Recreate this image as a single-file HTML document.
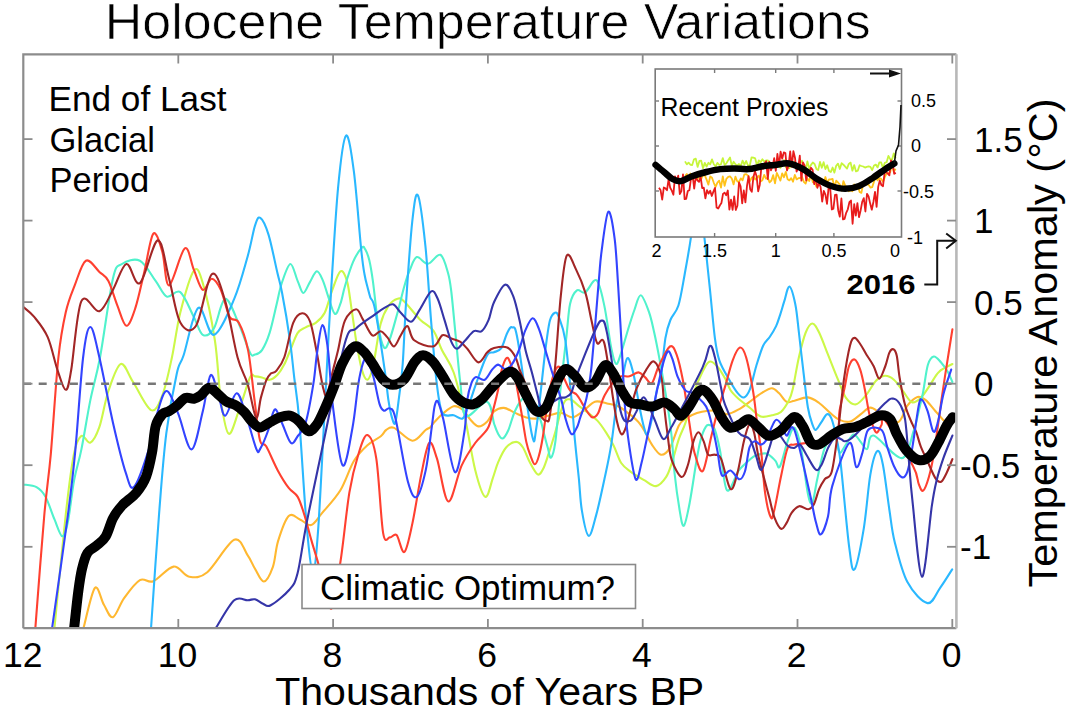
<!DOCTYPE html>
<html><head><meta charset="utf-8"><style>
html,body{margin:0;padding:0;background:#fff;width:1073px;height:712px;overflow:hidden}
svg{display:block}
text{font-family:"Liberation Sans", sans-serif;fill:#000}
</style></head><body>
<svg width="1073" height="712" viewBox="0 0 1073 712">
<rect width="1073" height="712" fill="#fff"/>
<defs><clipPath id="pc"><rect x="23.5" y="54" width="933" height="574.5"/></clipPath></defs>
<g clip-path="url(#pc)"><g><path d="M83.7 627.3C85.6 620.8 91.5 591.8 94.9 588.0C98.3 584.2 100.9 599.9 103.9 604.8C106.9 609.7 109.5 618.3 112.9 617.2C116.3 616.1 119.6 604.3 124.1 598.1C128.6 591.9 135.0 582.9 139.9 580.1C144.8 577.3 147.7 583.5 153.3 581.2C158.9 579.0 167.6 567.4 173.6 566.6C179.6 565.9 183.7 575.8 189.3 576.7C194.9 577.6 199.8 578.4 207.3 572.2C214.8 566.0 227.5 542.5 234.2 539.7C240.9 536.9 244.2 550.5 247.7 555.4C251.2 560.2 252.3 564.4 255.0 568.8C257.7 573.1 260.8 581.8 263.8 581.5C266.8 581.2 270.5 573.5 272.9 566.8C275.3 560.1 275.4 549.9 278.0 541.4C280.6 532.9 285.1 519.7 288.7 516.0C292.3 512.3 296.1 517.9 299.9 519.4C303.6 520.9 307.4 526.1 311.2 525.0C314.9 523.9 317.5 518.4 322.4 512.6C327.3 506.8 335.1 498.8 340.4 490.2C345.6 481.6 349.4 468.5 353.9 461.0C358.4 453.5 362.9 449.3 367.4 445.2C371.9 441.1 377.7 438.7 380.8 436.2C383.9 433.7 384.0 431.4 386.2 430.0C388.4 428.6 389.8 426.1 394.1 427.9C398.5 429.7 407.1 440.3 412.3 440.7C417.6 441.1 422.6 432.2 425.6 430.0C428.6 427.8 428.8 428.6 430.3 427.2C431.8 425.8 432.6 424.1 434.6 421.9C436.6 419.7 439.2 416.6 442.4 414.0C445.6 411.4 450.3 406.9 453.7 406.2C457.1 405.5 459.8 407.4 462.6 409.6C465.4 411.9 467.9 416.9 470.5 419.7C473.1 422.5 475.6 426.1 478.4 426.4C481.2 426.7 484.7 423.9 487.3 421.4C489.9 418.9 491.2 413.8 494.0 411.5C496.8 409.2 500.4 407.7 503.9 407.9C507.4 408.1 511.4 411.3 515.1 412.9C518.8 414.5 522.5 416.5 526.3 417.4C530.0 418.3 533.7 418.9 537.6 418.5C541.5 418.1 546.0 416.1 549.9 415.2C553.8 414.3 557.5 412.5 561.2 412.9C565.0 413.3 568.7 417.8 572.4 417.4C576.1 417.0 579.9 413.3 583.6 410.7C587.4 408.1 591.0 402.9 594.9 401.7C598.8 400.5 603.1 402.7 607.0 403.5C610.9 404.3 614.5 404.5 618.2 406.3C622.0 408.1 626.1 411.6 629.5 414.2C632.9 416.8 635.9 419.1 638.5 422.1C641.1 425.1 643.0 428.4 645.2 432.2C647.4 435.9 649.3 440.9 651.9 444.6C654.5 448.4 657.9 454.1 660.9 454.7C663.9 455.2 666.9 452.8 669.9 447.9C672.9 443.0 676.3 430.3 678.9 425.4C681.5 420.5 682.7 420.8 685.7 418.7C688.7 416.6 693.2 414.4 696.9 413.1C700.6 411.8 704.4 411.2 708.1 410.8C711.9 410.4 716.2 410.2 719.4 410.8C722.5 411.4 723.9 414.4 727.0 414.2C730.1 414.0 734.5 411.8 738.2 409.7C742.0 407.6 745.6 404.7 749.5 401.9C753.4 399.1 757.8 395.4 761.5 393.1C765.2 390.8 769.0 388.2 771.9 388.2C774.8 388.2 776.4 390.8 778.9 393.1C781.4 395.4 784.0 400.6 786.6 401.9C789.2 403.2 790.9 401.4 794.4 400.7C797.9 399.9 803.8 397.0 807.9 397.4C812.0 397.8 815.4 400.4 819.1 403.0C822.9 405.6 827.0 410.3 830.4 413.1C833.8 415.9 836.2 418.5 839.5 419.9C842.8 421.3 846.8 422.4 850.3 421.5C853.8 420.6 857.1 416.9 860.2 414.6C863.4 412.3 866.6 408.6 869.2 407.8C871.8 407.1 871.3 407.7 876.0 410.1C880.7 412.5 892.1 423.1 897.3 422.4C902.5 421.6 904.0 409.8 907.4 405.6C910.8 401.4 914.5 398.1 917.5 397.1C920.5 396.2 922.4 397.5 925.4 399.9C928.4 402.2 932.5 407.8 935.5 411.2C938.5 414.6 942.1 418.7 943.4 420.2" stroke="#ffb830" stroke-width="2.1" fill="none" stroke-linejoin="round" stroke-linecap="round"/>
<path d="M54.5 627.3C56.4 608.6 62.5 543.9 65.7 515.0C68.9 486.1 71.3 467.3 73.9 454.1C76.5 440.9 78.7 437.8 81.4 435.9C84.2 434.0 87.4 444.1 90.4 442.6C93.4 441.1 96.4 435.5 99.4 426.9C102.4 418.3 104.8 401.5 108.4 391.0C112.0 380.5 116.7 365.5 120.8 364.0C124.9 362.5 128.0 374.3 133.1 382.0C138.2 389.7 146.2 407.9 151.1 410.1C156.0 412.3 158.8 404.2 162.3 395.4C165.8 386.6 168.9 371.3 171.9 357.5C174.9 343.7 176.7 326.8 180.3 312.4C184.0 297.9 190.1 275.7 193.8 270.8C197.6 265.9 199.3 271.5 202.8 283.1C206.3 294.7 211.9 321.0 214.9 340.5C217.9 360.0 218.5 384.4 220.8 399.9C223.1 415.4 225.6 431.8 228.6 433.7C231.6 435.6 235.1 420.6 238.7 411.2C242.3 401.8 247.3 383.3 250.0 377.5C252.7 371.7 253.0 376.4 255.0 376.4C257.0 376.4 259.5 376.9 261.9 377.5C264.3 378.1 267.0 380.3 269.6 379.8C272.2 379.3 275.1 377.2 277.5 374.7C279.9 372.2 282.1 368.7 284.2 364.6C286.3 360.5 288.1 355.3 290.4 350.0C292.6 344.7 295.2 336.7 297.7 332.9C300.2 329.1 302.6 329.0 305.6 327.3C308.6 325.6 312.5 325.2 315.7 322.8C318.9 320.4 322.0 318.0 324.7 312.7C327.4 307.4 329.4 297.7 332.0 290.8C334.6 283.9 337.9 272.9 340.4 271.3C342.9 269.7 345.1 274.8 347.0 281.1C348.9 287.4 350.0 299.1 351.6 309.3C353.2 319.5 354.7 332.1 356.4 342.1C358.1 352.1 359.9 362.8 361.7 369.1C363.5 375.4 365.5 380.2 367.4 379.8C369.3 379.4 370.8 375.9 373.0 366.6C375.2 357.3 378.0 334.0 380.6 323.9C383.2 313.8 385.7 310.2 388.5 306.0C391.3 301.8 394.9 299.4 397.5 298.7C400.1 297.9 400.5 298.1 404.2 301.5C407.9 304.9 415.0 314.5 419.9 319.4C424.8 324.3 429.7 325.6 433.4 330.7C437.1 335.8 438.5 343.0 441.9 350.0C445.3 357.0 449.9 361.6 453.7 372.5C457.5 383.4 461.0 399.5 464.6 415.7C468.2 431.9 471.8 456.4 475.2 469.9C478.6 483.4 482.4 495.5 485.3 496.8C488.2 498.1 490.8 483.6 492.9 477.8C495.0 472.0 496.0 467.2 498.2 462.1C500.4 457.1 503.1 450.9 506.1 447.5C509.1 444.1 513.4 441.9 516.2 441.9C519.0 441.9 520.8 444.1 523.0 447.5C525.2 450.9 527.3 457.6 529.7 462.1C532.1 466.6 535.4 473.3 537.6 474.4C539.9 475.5 541.3 472.4 543.2 468.8C545.1 465.2 546.8 459.1 548.8 453.1C550.8 447.1 552.6 441.2 555.0 433.0C557.4 424.8 560.9 409.5 563.4 403.9C565.9 398.3 567.5 399.0 570.1 399.4C572.7 399.8 576.1 403.9 579.1 406.2C582.1 408.4 585.0 410.4 588.1 412.9C591.2 415.3 594.6 417.6 597.6 420.9C600.6 424.2 603.6 428.7 606.3 432.8C609.0 436.9 611.2 440.7 613.7 445.7C616.2 450.7 618.4 458.6 621.2 463.0C624.1 467.4 626.9 468.9 630.8 471.8C634.6 474.7 640.1 477.8 644.3 480.2C648.5 482.6 652.5 486.7 656.1 486.1C659.8 485.6 663.6 480.8 666.2 476.9C668.8 473.0 669.7 469.3 671.8 463.0C673.9 456.7 676.6 445.7 678.9 438.9C681.2 432.1 683.2 429.8 685.7 422.1C688.2 414.5 690.9 401.4 693.7 393.0C696.5 384.6 699.9 377.0 702.5 371.8C705.1 366.6 706.8 362.6 709.2 361.7C711.6 360.8 714.4 363.3 717.1 366.2C719.8 369.1 723.2 375.0 725.4 379.0C727.6 383.0 728.3 386.8 730.4 390.0C732.5 393.2 735.0 395.6 738.2 398.5C741.4 401.4 745.8 404.5 749.5 407.5C753.2 410.5 757.0 415.2 760.7 416.5C764.4 417.8 768.5 416.1 771.9 415.3C775.3 414.6 778.1 414.4 780.9 412.0C783.7 409.6 786.7 404.6 788.7 400.8C790.7 397.0 791.0 396.6 792.7 389.3C794.4 382.0 796.7 366.7 798.9 357.2C801.1 347.7 803.5 338.1 805.7 332.5C808.0 326.9 810.2 323.5 812.4 323.5C814.6 323.5 816.5 327.3 819.1 332.5C821.7 337.7 825.0 347.1 828.1 354.9C831.2 362.7 834.8 372.1 837.8 379.2C840.8 386.3 842.8 393.4 845.8 397.6C848.8 401.8 852.4 404.8 855.7 404.4C859.0 404.0 862.4 399.3 865.8 395.4C869.2 391.5 872.8 384.1 876.0 380.8C879.2 377.5 881.9 376.0 884.9 375.8C887.9 375.6 890.9 377.2 893.9 379.7C896.9 382.2 899.9 387.2 902.9 391.0C905.9 394.8 908.9 401.1 911.9 402.2C914.9 403.3 917.9 400.5 920.9 397.7C923.9 394.9 926.9 389.6 929.9 385.3C932.9 381.0 935.1 375.4 938.9 371.9C942.6 368.3 950.1 365.3 952.4 364.0" stroke="#ccf848" stroke-width="2.1" fill="none" stroke-linejoin="round" stroke-linecap="round"/>
<path d="M23.0 484.4C25.2 484.9 32.8 485.1 36.5 487.2C40.2 489.3 42.5 491.4 45.5 496.8C48.5 502.2 51.7 512.8 54.5 519.4C57.3 526.0 60.1 535.9 62.3 536.3C64.5 536.7 65.9 531.0 67.9 521.7C69.9 512.4 71.8 492.4 74.1 480.4C76.3 468.3 78.7 462.8 81.4 449.4C84.1 436.0 87.3 415.2 90.4 399.9C93.5 384.6 96.2 377.7 100.0 357.5C103.8 337.3 109.2 294.3 112.9 278.7C116.6 263.1 117.4 267.0 121.9 264.0C126.4 261.0 134.3 257.9 139.9 260.7C145.5 263.5 151.1 274.9 155.6 280.9C160.1 286.9 162.7 294.7 166.8 296.6C170.9 298.5 175.8 288.7 180.3 292.1C184.8 295.5 190.1 309.8 193.8 316.9C197.6 324.0 199.4 332.9 202.8 334.8C206.2 336.7 210.3 334.1 214.0 328.1C217.7 322.1 221.1 299.6 225.2 298.9C229.3 298.1 234.6 314.6 238.7 323.6C242.8 332.6 247.3 347.7 250.0 352.8C252.7 357.9 253.0 354.9 255.0 354.5C257.0 354.1 259.6 353.7 262.0 350.1C264.4 346.5 267.1 340.7 269.6 332.9C272.1 325.1 274.8 311.8 276.8 303.5C278.8 295.2 279.5 289.6 281.8 283.0C284.1 276.4 287.8 264.3 290.4 264.0C293.0 263.7 295.5 276.3 297.7 281.1C299.9 285.9 301.3 292.8 303.3 293.0C305.3 293.2 307.6 285.7 309.9 282.1C312.1 278.5 314.7 271.6 316.8 271.3C318.9 271.0 320.8 276.0 322.7 280.1C324.6 284.2 326.0 290.2 328.0 295.8C330.0 301.4 332.7 312.5 334.8 313.8C336.9 315.1 338.7 308.3 340.4 303.7C342.1 299.1 342.9 293.0 345.0 286.0C347.1 279.0 350.3 268.3 353.1 261.9C355.9 255.5 359.8 249.8 361.8 247.7C363.8 245.6 363.9 247.2 365.2 249.3C366.4 251.4 368.0 254.9 369.3 260.3C370.6 265.7 371.5 270.9 373.0 281.9C374.5 292.9 376.6 315.3 378.4 326.2C380.2 337.1 382.1 345.2 384.0 347.5C385.9 349.8 387.4 345.5 389.6 339.7C391.9 333.9 395.0 321.6 397.5 312.7C400.0 303.8 402.3 293.1 404.4 286.0C406.4 278.9 407.7 274.8 409.8 270.0C411.9 265.2 413.8 258.1 416.8 257.1C419.8 256.1 424.1 264.2 428.0 263.8C431.9 263.4 437.0 253.2 440.4 254.8C443.8 256.4 446.3 267.0 448.1 273.3C449.9 279.6 450.1 282.2 451.4 292.5C452.6 302.8 454.1 319.9 455.6 335.1C457.1 350.3 458.7 370.2 460.4 383.7C462.1 397.2 461.5 413.0 465.9 416.0C470.3 419.0 482.3 400.4 487.0 401.7C491.7 403.0 492.3 418.6 494.2 424.0C496.1 429.4 496.8 431.6 498.2 434.0C499.6 436.4 501.0 439.1 502.7 438.5C504.4 437.9 506.2 434.8 508.3 430.2C510.4 425.6 512.5 416.2 515.1 410.7C517.7 405.2 521.3 399.3 524.1 397.2C526.9 395.1 529.1 394.4 531.9 398.3C534.6 402.2 538.7 414.9 540.6 420.3C542.5 425.7 542.0 426.1 543.2 430.6C544.4 435.1 546.4 443.0 547.7 447.5C549.0 452.0 549.7 458.5 551.0 457.6C552.3 456.7 553.7 453.5 555.3 442.1C556.9 430.7 558.6 406.7 560.5 389.1C562.4 371.5 564.8 350.9 566.4 336.7C568.0 322.5 568.4 311.4 570.1 303.7C571.9 296.0 574.4 292.2 576.9 290.3C579.4 288.4 581.9 294.2 585.1 292.5C588.4 290.8 593.2 278.0 596.4 280.2C599.6 282.4 601.8 294.1 604.3 305.6C606.8 317.1 609.5 339.6 611.5 349.3C613.5 359.0 614.5 363.0 616.0 363.9C617.5 364.8 618.5 360.8 620.5 354.9C622.5 349.0 626.0 336.2 628.3 328.7C630.6 321.2 632.3 315.6 634.4 310.0C636.5 304.4 638.3 294.9 640.8 295.3C643.2 295.7 646.9 306.2 649.1 312.4C651.3 318.6 652.4 324.5 654.2 332.5C656.0 340.5 657.6 348.8 659.8 360.6C662.0 372.4 665.2 390.5 667.2 403.4C669.2 416.3 670.6 426.3 671.8 438.0C673.0 449.7 673.3 461.4 674.6 473.5C675.9 485.6 678.2 501.9 679.7 510.6C681.2 519.3 682.2 527.1 683.9 525.7C685.6 524.3 687.8 512.6 689.8 502.1C691.8 491.7 694.4 473.1 696.1 463.0C697.9 452.9 698.7 447.3 700.3 441.2C701.9 435.1 704.2 429.2 705.9 426.6C707.6 424.0 708.9 424.8 710.4 425.4C711.9 425.9 713.3 425.6 714.9 429.9C716.5 434.2 718.1 440.9 720.1 451.0C722.1 461.1 724.0 486.9 727.0 490.3C730.0 493.7 735.4 475.4 738.2 471.2C741.0 467.0 742.0 466.9 743.9 465.0C745.8 463.1 747.6 461.5 749.5 460.0C751.4 458.5 752.3 456.9 755.1 455.8C757.9 454.7 762.9 452.7 766.3 453.5C769.6 454.3 773.0 458.3 775.2 460.5C777.5 462.7 777.7 469.9 779.8 466.7C781.9 463.5 785.3 447.7 787.7 441.2C790.1 434.7 792.2 426.8 794.4 427.7C796.6 428.6 798.5 435.7 800.8 446.7C803.0 457.7 806.0 484.4 807.9 493.7C809.8 503.0 810.8 505.2 812.4 502.7C814.0 500.1 815.3 487.5 817.4 478.4C819.5 469.3 821.9 454.7 824.8 447.9C827.7 441.1 832.4 437.0 834.9 437.8C837.4 438.6 837.7 451.6 839.5 452.7C841.3 453.8 843.6 447.6 845.9 444.6C848.2 441.6 851.1 435.1 853.5 434.5C855.9 433.9 858.0 438.8 860.2 441.2C862.5 443.6 864.8 450.0 867.0 449.1C869.2 448.2 867.9 434.1 873.7 435.6C879.5 437.1 895.1 458.9 901.8 458.1C908.4 457.4 910.8 438.9 913.6 431.1C916.4 423.3 917.1 417.7 918.7 411.2C920.3 404.7 921.6 399.8 923.1 392.1C924.6 384.4 926.1 370.7 927.9 364.8C929.7 358.9 931.6 356.9 933.8 356.5C936.0 356.1 938.5 359.6 940.9 362.2C943.2 364.8 946.0 368.6 947.9 371.9C949.8 375.2 951.6 380.3 952.4 382.0" stroke="#50f2cc" stroke-width="2.1" fill="none" stroke-linejoin="round" stroke-linecap="round"/>
<path d="M151.1 627.3C152.4 608.6 156.5 547.3 159.0 515.0C161.5 482.7 163.3 457.0 166.3 433.4C169.3 409.8 173.9 386.5 176.8 373.4C179.7 360.3 180.1 365.9 183.7 355.0C187.3 344.1 193.2 311.3 198.3 307.9C203.4 304.5 208.0 336.3 214.0 334.8C220.0 333.3 228.6 312.0 234.2 298.9C239.8 285.8 244.2 268.4 247.7 256.2C251.2 244.0 252.9 232.0 255.0 225.6C257.1 219.2 258.1 216.4 260.3 217.9C262.6 219.4 265.6 225.4 268.5 234.6C271.4 243.8 275.2 263.7 277.5 273.3C279.8 282.9 279.9 281.5 282.0 292.5C284.1 303.5 287.8 325.0 289.8 339.3C291.9 353.6 292.7 364.7 294.3 378.1C295.9 391.5 297.1 395.2 299.2 419.9C301.3 444.6 304.4 500.9 306.7 526.1C309.0 551.3 311.1 571.1 313.0 571.1C314.9 571.1 316.2 556.9 318.4 526.1C320.5 495.3 323.8 425.0 325.9 386.4C328.0 347.8 328.9 327.5 330.9 294.3C332.9 261.1 335.6 213.8 338.1 187.4C340.6 161.0 343.4 138.3 346.0 135.7C348.6 133.1 351.4 152.7 353.9 171.7C356.4 190.7 359.4 232.4 361.2 249.5C363.0 266.6 363.4 268.0 364.5 274.3C365.6 280.6 366.6 283.7 367.6 287.5C368.6 291.3 369.1 293.7 370.3 297.3C371.5 300.9 372.7 297.6 375.0 309.3C377.3 321.0 382.1 352.1 384.3 367.3C386.6 382.5 387.2 392.2 388.5 400.6C389.8 409.0 390.8 413.7 391.9 417.4C393.0 421.1 394.1 425.8 395.2 423.0C396.3 420.2 397.4 410.4 398.6 400.6C399.9 390.8 401.4 380.4 402.7 364.0C403.9 347.6 404.5 325.8 406.1 302.0C407.7 278.2 410.3 238.9 412.3 221.1C414.3 203.3 415.7 191.2 417.9 195.3C420.1 199.4 423.2 224.9 425.4 245.9C427.6 266.9 429.2 298.1 431.1 321.1C433.0 344.1 434.9 368.4 436.8 383.7C438.7 399.0 439.6 407.6 442.4 412.9C445.2 418.1 450.3 414.3 453.7 415.2C457.1 416.1 460.2 420.0 462.6 418.5C465.0 417.0 466.1 412.0 468.3 406.2C470.6 400.4 473.5 391.0 476.1 383.7C478.7 376.4 481.7 367.6 483.8 362.5C485.9 357.4 486.8 355.1 488.5 353.4C490.2 351.7 491.9 353.1 494.0 352.2C496.1 351.3 499.1 351.3 501.3 348.1C503.5 344.9 505.4 336.4 507.2 332.9C509.0 329.4 510.5 326.1 512.3 327.3C514.0 328.5 514.5 322.4 517.7 340.0C520.9 357.6 528.5 418.6 531.6 433.2C534.7 447.8 534.1 441.4 536.4 427.5C538.7 413.6 543.1 367.8 545.4 350.0C547.6 332.2 548.3 326.8 549.9 320.6C551.5 314.4 553.5 313.3 555.0 312.7C556.5 312.1 557.2 312.5 558.9 317.2C560.6 321.9 563.2 326.5 565.4 340.7C567.5 354.9 570.2 385.9 571.8 402.5C573.4 419.1 573.7 427.6 574.9 440.2C576.1 452.8 577.6 466.3 578.8 478.0C580.0 489.7 580.2 501.0 581.9 510.6C583.5 520.2 586.3 535.1 588.7 535.8C591.1 536.5 593.6 524.3 596.3 514.6C599.0 504.9 602.2 489.5 604.7 477.8C607.2 466.1 609.3 456.9 611.3 444.3C613.3 431.7 615.1 412.5 616.8 402.3C618.5 392.1 619.9 390.3 621.6 383.0C623.3 375.7 625.3 360.0 627.2 358.3C629.1 356.6 631.1 364.6 633.2 372.8C635.3 381.0 637.8 398.4 639.6 407.5C641.4 416.6 642.8 423.2 644.1 427.7C645.4 432.2 646.1 435.9 647.4 434.4C648.7 432.9 650.3 426.2 651.9 418.7C653.5 411.2 655.5 396.2 657.0 389.3C658.5 382.4 659.5 385.9 660.9 377.4C662.3 368.9 663.8 347.7 665.4 338.1C667.0 328.5 668.2 325.4 670.4 320.0C672.6 314.6 676.0 313.1 678.4 305.5C680.8 297.9 682.5 286.3 684.6 274.7C686.7 263.1 689.0 250.8 691.2 235.6C693.4 220.4 695.4 183.7 697.6 183.7C699.8 183.7 702.2 218.2 704.2 235.6C706.2 253.0 708.0 270.9 709.8 288.0C711.6 305.1 713.3 326.0 714.9 338.1C716.5 350.2 717.0 353.6 719.4 360.6C721.8 367.6 726.5 374.8 729.5 380.2C732.5 385.6 735.3 390.2 737.7 393.1C740.1 396.0 741.9 398.0 743.9 397.4C745.9 396.8 747.8 394.6 749.9 389.4C752.0 384.2 754.0 373.4 756.2 366.2C758.4 359.0 760.8 350.9 763.0 346.0C765.2 341.1 767.5 340.3 769.7 337.0C771.9 333.7 774.3 329.9 776.1 326.1C777.9 322.3 778.9 318.5 780.3 314.3C781.7 310.1 782.8 305.8 784.3 301.2C785.8 296.6 787.6 286.1 789.4 286.6C791.2 287.1 793.7 296.6 795.3 304.2C796.9 311.8 797.6 321.4 798.9 332.5C800.2 343.6 801.8 358.2 803.3 370.7C804.8 383.2 806.4 398.6 807.9 407.5C809.4 416.4 811.1 420.6 812.4 424.3C813.7 428.0 814.3 430.3 815.8 429.9C817.3 429.5 819.5 424.7 821.4 422.1C823.3 419.5 825.3 414.8 827.0 414.2C828.7 413.6 830.0 414.9 831.5 418.7C833.0 422.5 834.7 429.6 836.2 436.9C837.7 444.2 838.5 444.5 840.6 462.6C842.7 480.7 846.7 527.8 849.0 545.6C851.3 563.4 852.0 572.3 854.5 569.4C857.0 566.5 861.2 544.0 863.8 528.3C866.4 512.5 868.1 487.7 870.3 474.9C872.5 462.1 875.0 453.2 877.1 451.3C879.2 449.4 880.7 453.9 882.7 463.7C884.8 473.5 887.4 496.9 889.4 510.0C891.4 523.0 891.7 530.0 894.7 542.0C897.7 554.0 901.9 571.9 907.4 582.1C912.9 592.3 922.0 602.2 927.5 603.1C933.0 604.0 936.2 593.2 940.3 587.6C944.4 582.0 950.2 572.4 952.2 569.4" stroke="#2ab8ff" stroke-width="2.1" fill="none" stroke-linejoin="round" stroke-linecap="round"/>
<path d="M35.4 627.3C36.9 608.6 41.7 543.9 44.3 515.0C46.9 486.1 48.4 480.4 50.8 454.1C53.1 427.9 55.9 381.1 58.4 357.5C60.9 333.9 63.0 324.4 65.7 312.4C68.4 300.4 71.3 294.0 74.7 285.4C78.1 276.8 81.8 262.9 85.9 260.7C90.0 258.4 95.7 268.5 99.4 271.9C103.2 275.3 105.4 275.3 108.4 280.9C111.4 286.5 114.4 298.1 117.4 305.6C120.4 313.1 123.4 325.4 126.4 325.8C129.4 326.2 132.4 316.9 135.4 307.9C138.4 298.9 141.3 284.3 144.3 271.9C147.3 259.5 150.3 237.1 153.3 233.7C156.3 230.3 159.7 243.1 162.3 251.7C164.9 260.3 165.3 286.0 169.1 285.4C172.8 284.8 180.7 250.9 184.8 248.3C188.9 245.7 190.8 262.8 193.8 269.7C196.8 276.6 199.8 288.4 202.8 289.9C205.8 291.4 208.8 278.7 211.8 278.7C214.8 278.7 217.8 283.5 220.8 289.9C223.8 296.3 226.7 311.5 229.7 316.9C232.7 322.3 235.6 316.9 238.7 322.5C241.8 328.1 245.5 337.5 248.1 350.4C250.7 363.3 252.5 385.0 254.5 399.9C256.5 414.8 257.9 432.3 259.9 440.0C261.8 447.7 263.3 441.3 266.2 446.3C269.1 451.3 273.8 463.0 277.5 469.9C281.2 476.8 285.3 483.4 288.7 487.9C292.1 492.4 295.1 492.4 297.7 496.9C300.3 501.4 302.1 507.8 304.4 514.9C306.6 522.0 308.9 531.7 311.2 539.6C313.4 547.5 314.6 550.6 317.9 562.1C321.2 573.6 327.2 608.9 331.0 608.9C334.8 608.9 337.3 581.5 340.4 562.1C343.5 542.7 346.4 510.4 349.4 492.4C352.4 474.4 355.4 463.8 358.4 454.2C361.4 444.6 364.4 434.4 367.4 435.1C370.4 435.9 373.7 442.4 376.3 458.7C378.9 475.0 380.9 519.8 383.1 532.9C385.4 546.0 387.6 537.0 389.8 537.4C392.1 537.8 394.2 532.7 396.6 535.1C399.0 537.5 401.8 553.9 404.4 552.0C407.0 550.1 409.5 536.8 412.3 523.9C415.1 511.0 418.5 487.9 421.3 474.4C424.1 460.9 426.6 445.6 429.2 443.0C431.8 440.4 433.8 449.0 437.0 458.7C440.2 468.4 444.2 500.3 448.3 501.4C452.4 502.5 457.2 475.1 461.7 465.4C466.2 455.7 470.8 449.2 475.2 443.0C479.6 436.8 484.8 433.8 487.8 428.3C490.8 422.9 491.4 416.8 493.1 410.3C494.8 403.8 496.8 396.0 498.2 389.3C499.6 382.6 500.2 375.4 501.6 370.2C503.0 365.0 505.2 359.0 506.7 357.9C508.2 356.8 509.2 360.1 510.6 363.5C512.0 366.9 513.4 370.2 515.1 378.1C516.9 386.0 519.2 400.1 521.1 410.7C523.0 421.3 524.7 434.3 526.3 441.9C527.9 449.5 529.4 452.8 530.8 456.5C532.2 460.2 533.5 464.3 534.8 464.3C536.1 464.3 537.4 461.1 538.7 456.5C540.1 451.9 541.2 446.8 542.9 436.5C544.6 426.2 546.9 405.6 548.8 394.9C550.7 384.2 552.6 377.2 554.4 372.5C556.2 367.8 557.8 365.8 559.5 366.9C561.2 368.0 562.7 375.3 564.5 379.2C566.3 383.1 568.0 387.8 570.1 390.4C572.2 393.0 574.8 392.6 576.9 394.9C579.0 397.1 580.6 400.9 582.5 403.9C584.4 406.9 586.4 410.6 588.1 412.9C589.8 415.1 590.9 417.4 592.6 417.4C594.3 417.4 596.2 416.6 598.2 412.9C600.2 409.2 601.5 400.9 604.8 395.0C608.1 389.1 614.1 380.5 618.2 377.4C622.3 374.3 626.1 377.1 629.5 376.3C632.9 375.5 635.9 372.2 638.5 372.4C641.1 372.6 643.0 375.6 645.2 377.4C647.4 379.2 649.6 384.9 651.9 383.0C654.1 381.1 655.7 372.3 658.7 366.2C661.7 360.1 666.9 348.4 669.9 346.5C672.9 344.6 674.5 349.1 676.7 354.9C678.9 360.7 681.2 371.5 683.1 381.2C685.0 390.9 686.5 404.0 687.9 413.1C689.3 422.2 690.1 428.6 691.3 435.6C692.5 442.6 693.3 449.4 695.2 455.3C697.1 461.2 700.2 474.2 702.9 470.9C705.6 467.6 709.1 445.2 711.5 435.6C713.9 426.0 714.8 421.4 717.1 413.1C719.4 404.8 722.7 394.6 725.3 385.9C727.9 377.1 730.2 367.0 732.6 360.6C735.0 354.2 737.6 348.2 739.9 347.6C742.1 347.0 743.9 350.0 746.1 357.2C748.3 364.4 751.1 379.5 753.0 390.7C754.9 401.9 755.9 414.0 757.3 424.3C758.7 434.6 760.0 441.1 761.3 452.7C762.6 464.3 763.6 482.9 765.2 493.7C766.8 504.5 769.3 514.5 770.8 517.3C772.3 520.1 772.5 517.6 774.2 510.6C776.0 503.6 779.0 485.4 781.3 475.0C783.5 464.6 785.5 453.0 787.7 447.9C789.9 442.8 791.8 445.4 794.4 444.6C797.0 443.9 796.6 444.5 803.4 443.4C810.2 442.3 829.2 443.4 835.2 438.0C841.2 432.6 837.9 419.2 839.5 410.9C841.1 402.5 843.0 395.3 844.6 387.9C846.2 380.4 847.3 370.9 849.0 366.2C850.7 361.5 852.7 358.9 854.6 359.5C856.5 360.1 858.5 364.7 860.2 369.6C861.9 374.5 863.2 381.4 864.7 388.7C866.2 396.0 867.7 406.8 869.2 413.4C870.7 419.9 872.4 424.8 873.7 428.0C875.0 431.2 875.8 433.1 877.1 432.5C878.4 431.9 880.3 426.8 881.6 424.7C882.9 422.6 879.7 413.3 884.9 420.2C890.1 427.1 907.4 455.4 913.0 466.0C918.6 476.6 917.0 479.8 918.7 483.9C920.4 488.0 921.4 491.8 923.1 490.7C924.8 489.6 927.0 483.5 928.8 477.2C930.6 470.9 931.8 466.5 934.0 452.8C936.2 439.1 939.9 410.9 942.2 395.0C944.5 379.1 946.3 368.0 948.0 357.1C949.7 346.2 951.7 334.0 952.4 329.4" stroke="#ff4030" stroke-width="2.1" fill="none" stroke-linejoin="round" stroke-linecap="round"/>
<path d="M23.0 306.7C24.9 308.4 30.1 311.8 34.2 316.9C38.3 322.0 43.8 328.2 47.7 337.1C51.6 346.0 54.5 361.2 57.5 370.0C60.5 378.8 63.4 389.8 65.7 389.8C68.0 389.8 68.6 384.8 71.2 370.0C73.8 355.2 76.7 310.9 81.4 301.1C86.1 291.3 94.2 313.1 99.4 311.2C104.7 309.3 108.4 297.8 112.9 289.9C117.4 282.0 121.9 265.1 126.4 264.0C130.9 262.9 134.7 287.0 139.9 283.1C145.1 279.2 152.9 241.1 157.8 240.4C162.7 239.7 165.3 265.0 169.1 278.7C172.8 292.4 175.8 314.6 180.3 322.5C184.8 330.4 190.8 333.9 196.0 325.8C201.2 317.8 206.9 278.3 211.8 274.2C216.7 270.1 220.9 287.2 225.2 301.1C229.5 315.0 233.8 343.6 237.6 357.5C241.3 371.4 244.6 374.2 247.7 384.2C250.8 394.2 253.9 415.5 256.1 417.7C258.3 419.9 259.2 403.8 260.9 397.6C262.6 391.4 264.6 384.3 266.2 380.3C267.8 376.3 269.0 375.2 270.7 373.6C272.4 372.0 274.0 373.6 276.3 370.8C278.6 368.0 281.6 365.0 284.4 357.0C287.2 349.0 290.2 330.1 293.2 322.8C296.2 315.5 299.4 313.5 302.2 313.3C305.0 313.1 307.8 315.7 310.1 321.7C312.4 327.7 314.5 340.8 316.2 349.3C317.9 357.8 319.0 365.8 320.2 372.5C321.4 379.2 322.4 385.6 323.5 389.3C324.6 393.0 325.3 398.3 326.9 394.9C328.5 391.5 331.4 376.5 333.3 369.0C335.2 361.5 336.2 358.1 338.1 350.0C340.0 341.9 341.9 327.4 344.9 320.6C347.9 313.8 353.1 309.5 356.1 309.3C359.1 309.1 360.2 315.0 362.9 319.4C365.6 323.8 369.4 333.4 372.3 335.4C375.2 337.4 378.1 330.9 380.6 331.2C383.1 331.5 385.1 334.9 387.4 337.4C389.6 339.9 391.9 346.8 394.1 346.4C396.3 346.0 398.6 338.6 400.8 335.2C403.1 331.8 405.4 325.3 407.6 326.2C409.8 327.1 409.9 336.9 414.2 340.3C418.5 343.7 428.7 347.2 433.4 346.4C438.1 345.5 439.4 336.5 442.4 335.2C445.4 333.9 448.4 337.4 451.4 338.5C454.4 339.6 457.7 340.1 460.4 341.9C463.1 343.7 464.7 345.9 467.7 349.3C470.7 352.7 475.1 361.9 478.4 362.4C481.7 362.9 484.7 354.7 487.3 352.3C489.9 349.9 490.7 348.9 494.0 348.1C497.3 347.3 503.6 346.0 507.2 347.5C510.8 349.0 513.1 352.7 515.4 356.9C517.6 361.1 517.6 364.7 520.7 372.5C523.8 380.3 530.8 396.6 534.2 403.9C537.6 411.2 538.8 413.5 540.9 416.3C543.0 419.1 545.1 421.0 546.6 420.8C548.1 420.6 548.4 424.7 549.9 415.2C551.4 405.7 553.6 383.5 555.4 363.6C557.2 343.7 558.9 313.9 560.8 295.9C562.7 277.9 564.3 260.0 566.8 255.6C569.3 251.2 572.9 263.1 576.0 269.4C579.1 275.6 582.9 284.6 585.5 293.1C588.1 301.6 589.6 312.3 591.5 320.6C593.4 328.9 595.0 339.2 597.1 343.0C599.2 346.8 601.6 333.9 604.3 343.1C606.9 352.3 610.9 384.8 613.0 398.0C615.1 411.2 615.7 416.0 617.1 422.1C618.5 428.2 620.1 433.6 621.6 434.4C623.1 435.1 624.6 430.7 626.1 426.6C627.6 422.5 628.9 416.0 630.6 409.7C632.3 403.4 633.9 395.4 636.5 388.7C639.1 382.0 643.3 374.1 646.3 369.6C649.2 365.1 651.7 360.2 654.2 361.7C656.8 363.2 659.9 370.8 661.6 378.4C663.3 386.0 663.3 398.0 664.3 407.5C665.3 417.0 666.5 426.9 667.7 435.6C668.9 444.3 669.3 452.7 671.6 459.6C673.9 466.5 678.7 476.0 681.4 476.9C684.1 477.8 685.9 470.9 687.9 465.0C689.9 459.1 691.7 446.7 693.5 441.2C695.3 435.7 696.9 432.2 698.6 432.2C700.3 432.2 702.0 437.4 703.6 441.2C705.2 444.9 706.2 452.4 708.1 454.7C710.0 456.9 712.7 454.0 714.9 454.7C717.1 455.4 718.5 453.2 721.1 458.9C723.7 464.6 727.7 486.4 730.4 488.9C733.1 491.3 735.0 481.6 737.3 473.6C739.5 465.7 741.9 449.4 743.9 441.2C745.9 433.0 747.8 425.8 749.5 424.3C751.2 422.8 752.5 426.9 754.0 432.2C755.5 437.5 756.5 447.8 758.4 456.2C760.3 464.6 763.3 475.3 765.2 482.5C767.1 489.7 768.2 493.4 769.7 499.3C771.2 505.2 772.6 512.7 774.5 517.6C776.4 522.5 779.1 527.9 781.1 528.8C783.1 529.7 784.9 525.6 786.6 522.9C788.4 520.2 789.5 515.6 791.6 512.8C793.7 510.0 796.4 506.8 799.2 506.2C802.0 505.6 805.9 509.6 808.3 509.3C810.7 509.0 812.0 507.9 813.8 504.5C815.6 501.1 817.3 493.4 819.1 489.2C820.9 485.0 822.7 482.1 824.8 479.1C826.9 476.2 829.6 479.7 831.8 471.5C834.0 463.3 836.2 445.2 838.2 429.9C840.2 414.6 841.9 393.8 843.9 379.7C845.9 365.6 848.3 352.2 850.1 345.2C851.9 338.2 852.9 338.1 854.6 337.9C856.3 337.7 858.2 341.2 860.2 344.0C862.2 346.8 864.2 351.0 866.5 354.7C868.8 358.4 871.6 362.2 873.7 366.2C875.8 370.2 877.4 378.6 879.3 378.6C881.2 378.7 883.5 370.8 885.2 366.5C886.9 362.2 888.0 355.5 889.4 352.6C890.8 349.7 892.1 348.7 893.3 349.2C894.5 349.7 895.7 350.8 896.7 355.5C897.8 360.2 898.2 369.1 899.6 377.5C901.0 385.9 903.1 397.8 905.2 405.6C907.3 413.4 910.5 419.7 912.4 424.2C914.3 428.7 915.0 428.7 916.4 432.5C917.8 436.3 919.0 442.1 920.9 446.9C922.8 451.7 925.2 456.3 927.6 461.5C930.0 466.7 933.2 474.9 935.5 478.3C937.8 481.7 939.2 482.6 941.1 481.7C943.0 480.8 944.8 476.4 946.7 472.7C948.6 468.9 951.5 461.4 952.4 459.2" stroke="#a22626" stroke-width="2.1" fill="none" stroke-linejoin="round" stroke-linecap="round"/>
<path d="M52.2 627.3C54.8 608.6 64.1 544.4 67.9 515.0C71.8 485.6 72.8 476.9 75.3 450.7C77.8 424.4 80.6 378.1 83.1 357.5C85.6 336.9 87.7 327.0 90.4 327.0C93.1 327.0 95.7 341.6 99.4 357.5C103.2 373.4 108.5 403.1 112.9 422.4C117.3 441.7 122.4 462.5 125.9 473.2C129.4 483.9 130.4 490.7 134.2 486.7C138.0 482.7 144.9 462.0 148.8 449.4C152.7 436.8 154.8 420.9 157.8 411.2C160.8 401.5 163.4 390.6 166.8 391.0C170.2 391.4 174.0 403.7 178.1 413.4C182.2 423.1 187.4 449.8 191.5 449.4C195.6 449.0 199.6 423.6 202.8 411.2C206.0 398.8 208.0 377.8 210.6 375.2C213.2 372.6 216.1 388.6 218.5 395.4C220.9 402.1 222.2 416.1 225.2 415.7C228.2 415.3 233.1 393.6 236.5 393.2C239.9 392.8 242.2 404.1 245.5 413.4C248.8 422.7 253.8 443.0 256.3 448.9C258.8 454.8 258.3 451.8 260.3 448.6C262.3 445.4 266.4 435.4 268.5 429.5C270.6 423.6 271.7 416.1 273.0 412.9C274.3 409.7 274.7 408.1 276.3 410.1C277.9 412.1 280.2 419.2 282.7 424.7C285.1 430.2 288.5 441.1 291.0 443.0C293.5 444.9 295.3 439.5 297.7 436.2C300.1 432.9 303.0 431.8 305.6 423.0C308.2 414.2 311.5 395.4 313.4 383.7C315.3 372.0 315.6 362.4 317.1 352.6C318.6 342.8 320.6 325.5 322.4 325.1C324.2 324.7 326.3 336.6 328.0 350.0C329.7 363.4 330.4 386.1 332.8 405.3C335.2 424.5 339.3 461.6 342.6 465.4C345.9 469.2 349.8 441.9 352.4 428.3C355.0 414.7 356.6 394.5 358.4 383.7C360.1 372.9 361.6 367.4 362.9 363.5C364.2 359.6 364.5 358.1 366.2 360.1C367.9 362.1 370.8 368.0 373.0 375.3C375.2 382.6 377.7 398.0 379.5 403.9C381.3 409.8 382.3 409.9 384.0 410.7C385.7 411.4 387.7 407.1 389.6 408.4C391.5 409.7 392.5 406.4 395.5 418.5C398.5 430.6 404.2 468.1 407.8 481.2C411.4 494.3 413.8 498.8 416.8 496.9C419.8 495.0 423.3 481.3 425.8 469.9C428.3 458.5 430.1 438.9 431.6 428.3C433.1 417.7 433.6 410.6 434.6 406.2C435.7 401.8 436.4 399.5 437.9 401.7C439.3 403.9 440.4 407.6 443.3 419.3C446.2 431.1 451.5 470.0 455.0 472.2C458.5 474.4 462.3 444.4 464.3 432.5C466.3 420.6 465.9 408.9 467.1 400.6C468.3 392.3 470.1 386.5 471.6 382.6C473.1 378.7 473.9 377.5 476.1 377.0C478.3 376.5 482.0 381.1 484.7 379.8C487.4 378.5 490.1 371.9 492.3 369.4C494.6 366.9 496.1 364.7 498.2 364.6C500.3 364.6 502.8 369.1 505.0 369.1C507.2 369.1 509.4 367.8 511.7 364.6C514.0 361.4 516.8 355.6 519.0 350.0C521.2 344.4 523.0 336.0 525.2 330.7C527.5 325.4 530.2 318.7 532.5 318.3C534.8 317.9 536.6 323.1 538.7 328.4C540.9 333.7 543.1 342.6 545.4 350.0C547.6 357.4 549.6 364.3 552.2 372.5C554.8 380.7 559.0 391.8 561.2 399.4C563.4 407.0 563.7 412.3 565.4 418.1C567.1 423.9 569.4 432.4 571.3 434.0C573.2 435.6 575.4 430.3 576.9 427.5C578.4 424.7 578.8 421.9 580.3 417.4C581.8 412.9 584.0 408.9 585.9 400.6C587.8 392.3 589.3 387.2 591.4 367.6C593.5 348.1 596.9 302.7 598.6 283.3C600.3 263.9 600.0 263.0 601.6 251.1C603.2 239.2 606.1 213.9 608.3 211.8C610.5 209.7 612.9 225.7 614.6 238.4C616.3 251.1 617.0 268.7 618.3 288.0C619.5 307.3 621.0 334.2 622.1 354.1C623.2 374.0 623.8 392.4 625.0 407.5C626.2 422.6 627.3 432.7 629.1 444.7C630.9 456.7 633.7 476.3 635.8 479.4C637.9 482.4 639.8 469.4 641.5 463.0C643.2 456.6 644.4 449.9 646.3 441.2C648.2 432.5 650.1 423.2 652.7 410.9C655.3 398.6 659.6 377.3 662.1 367.4C664.6 357.5 666.0 353.1 667.7 351.6C669.4 350.1 670.5 354.1 672.2 358.3C673.9 362.5 675.5 371.5 677.7 376.9C680.0 382.3 683.2 387.9 685.7 390.6C688.2 393.3 689.6 391.0 692.4 392.9C695.2 394.8 699.9 398.9 702.5 401.9C705.1 404.9 706.1 405.3 708.1 410.8C710.1 416.3 712.6 428.1 714.2 435.0C715.8 441.9 716.3 445.2 717.6 451.9C718.9 458.6 719.7 472.1 721.8 475.2C723.9 478.3 727.4 469.9 730.4 470.6C733.4 471.3 737.1 479.2 739.5 479.3C741.9 479.4 743.3 476.5 745.0 471.2C746.7 465.9 747.8 452.3 749.5 447.3C751.2 442.3 753.2 441.6 755.1 441.2C757.0 440.8 758.8 444.8 760.7 444.6C762.6 444.4 764.4 443.1 766.3 440.1C768.2 437.1 770.2 430.0 771.9 426.6C773.6 423.2 774.7 420.0 776.4 419.8C778.1 419.6 780.4 422.8 782.1 425.4C783.8 428.0 784.6 434.9 786.6 435.6C788.6 436.4 790.6 420.8 794.4 429.9C798.1 439.0 805.5 475.0 809.1 490.3C812.7 505.6 813.8 514.4 815.8 521.8C817.8 529.1 818.8 535.3 820.8 534.4C822.8 533.5 826.1 524.6 828.0 516.5C829.9 508.4 828.8 498.1 832.3 485.9C835.8 473.6 845.3 446.1 849.3 443.0C853.3 439.9 854.1 465.5 856.3 467.1C858.5 468.7 860.5 458.7 862.5 452.5C864.5 446.3 864.9 433.8 868.1 430.0C871.3 426.2 878.4 427.2 881.6 430.0C884.8 432.8 885.2 440.9 887.2 446.9C889.2 452.9 891.5 460.9 893.9 466.0C896.3 471.1 899.5 476.3 901.8 477.2C904.0 478.1 905.7 476.4 907.4 471.6C909.1 466.8 910.3 459.4 912.2 448.4C914.1 437.4 917.1 413.7 918.7 405.6C920.3 397.5 920.5 399.0 922.0 399.9C923.5 400.8 925.7 405.9 927.6 411.2C929.5 416.4 931.6 429.5 933.3 431.4C935.0 433.3 936.1 428.6 937.8 422.4C939.5 416.2 941.2 403.1 943.4 394.3C945.6 385.5 949.9 373.7 951.2 369.6" stroke="#3344ff" stroke-width="2.1" fill="none" stroke-linejoin="round" stroke-linecap="round"/>
<path d="M216.3 627.3C219.3 622.8 229.0 604.8 234.2 600.3C239.4 595.8 244.2 600.5 247.7 600.3C251.2 600.1 252.4 598.7 255.0 599.3C257.6 599.9 260.4 602.7 263.0 603.7C265.6 604.7 266.3 607.6 270.7 605.3C275.1 603.0 284.6 595.3 289.1 590.0C293.6 584.7 294.6 584.5 297.5 573.5C300.4 562.5 302.1 546.1 306.4 524.2C310.7 502.3 317.1 472.5 323.5 442.3C329.9 412.1 339.5 362.0 344.9 343.0C350.3 324.0 351.1 333.2 356.1 328.4C361.1 323.6 370.4 317.8 375.0 314.4C379.6 311.0 381.0 309.9 384.0 308.2C387.0 306.5 390.2 303.6 393.0 304.3C395.8 305.1 397.8 309.8 400.8 312.7C403.8 315.6 407.8 322.3 411.0 321.7C414.2 321.1 416.5 314.4 419.9 309.3C423.3 304.2 428.2 293.0 431.2 291.3C434.2 289.6 435.6 294.3 437.9 299.2C440.1 304.1 442.4 313.5 444.7 320.6C446.9 327.7 449.3 337.2 451.4 341.9C453.4 346.6 454.8 348.9 457.0 348.7C459.2 348.5 462.1 343.7 464.9 340.8C467.7 337.9 471.1 332.8 473.9 331.2C476.7 329.6 479.3 333.0 481.7 331.2C484.1 329.4 486.4 325.0 488.5 320.2C490.6 315.4 491.2 308.1 494.0 302.2C496.8 296.3 501.8 285.7 505.0 284.7C508.2 283.7 510.9 290.4 513.3 296.4C515.7 302.4 517.6 311.7 519.6 320.6C521.6 329.5 523.5 341.4 525.5 350.0C527.5 358.6 529.9 365.0 531.9 372.5C533.9 380.0 536.1 389.3 537.6 394.9C539.1 400.5 538.9 404.7 540.9 406.2C542.9 407.7 546.9 405.2 549.9 403.9C552.9 402.6 556.3 399.4 558.9 398.3C561.5 397.2 563.6 398.1 565.7 397.2C567.8 396.3 569.6 395.9 571.3 392.7C573.0 389.5 573.8 383.7 575.8 378.1C577.8 372.5 579.9 367.0 583.1 359.1C586.3 351.2 591.8 337.1 594.9 330.7C598.0 324.3 599.6 320.2 601.6 320.6C603.6 321.0 603.9 317.9 607.0 332.9C610.1 347.9 616.8 396.1 620.5 410.8C624.2 425.5 626.9 420.8 629.5 421.0C632.1 421.2 633.8 415.9 636.2 412.0C638.6 408.1 641.1 396.3 644.1 397.4C647.1 398.5 651.0 411.8 654.2 418.7C657.4 425.6 660.4 437.4 663.2 438.9C666.0 440.4 669.0 430.9 671.0 427.7C673.0 424.5 670.2 429.9 675.5 419.8C680.8 409.8 696.9 379.7 702.6 367.4C708.3 355.1 707.8 347.7 709.8 346.0C711.8 344.3 713.0 350.3 714.9 357.2C716.8 364.1 719.3 379.6 721.0 387.5C722.7 395.4 722.1 397.2 725.0 404.7C727.9 412.1 734.1 426.5 738.2 432.2C742.3 437.9 746.5 435.0 749.5 438.9C752.5 442.8 753.9 450.1 755.9 455.3C757.9 460.5 759.2 471.2 761.5 469.8C763.8 468.4 767.4 453.5 769.7 446.8C772.0 440.1 773.4 431.6 775.3 429.9C777.2 428.2 778.8 434.1 780.9 436.7C783.0 439.3 785.5 443.8 787.7 445.7C790.0 447.6 792.4 448.1 794.4 447.9C796.4 447.7 798.0 443.4 800.0 444.6C802.0 445.8 804.1 451.1 806.7 455.3C809.3 459.5 813.3 468.0 815.8 469.6C818.2 471.2 819.3 468.6 821.4 465.0C823.5 461.4 825.9 452.4 828.1 447.9C830.4 443.4 832.7 439.2 834.9 437.8C837.1 436.4 839.5 438.6 841.2 439.2C842.9 439.8 842.9 441.8 845.1 441.2C847.3 440.6 848.0 441.9 854.6 435.6C861.2 429.3 878.4 409.4 884.9 403.3C891.4 397.2 891.3 398.4 893.9 398.8C896.5 399.2 898.8 402.0 900.7 405.6C902.6 409.2 903.9 411.2 905.2 420.2C906.6 429.2 907.6 446.3 908.8 459.7C910.0 473.1 910.2 480.8 912.4 500.3C914.6 519.8 918.8 575.7 922.0 576.7C925.2 577.7 929.4 522.2 931.8 506.2C934.2 490.2 934.7 488.6 936.6 480.6C938.5 472.6 940.8 465.6 943.4 458.1C946.0 450.6 950.9 439.4 952.4 435.6" stroke="#3535a8" stroke-width="2.1" fill="none" stroke-linejoin="round" stroke-linecap="round"/></g>
<path d="M73.7 632.0C74.5 625.2 76.9 601.7 78.3 591.3C79.7 580.9 80.4 575.8 81.9 569.4C83.4 563.0 85.0 557.0 87.4 553.0C89.8 549.0 93.5 548.5 96.5 545.7C99.5 543.0 103.0 541.1 105.7 536.5C108.5 531.9 110.3 523.5 113.0 518.3C115.7 513.1 118.2 509.8 122.1 505.5C126.0 501.2 132.3 497.5 136.3 492.7C140.3 487.9 143.4 483.6 146.0 476.9C148.6 470.2 150.4 461.2 152.0 452.7C153.6 444.2 153.9 432.4 155.7 426.0C157.4 419.6 160.3 416.4 162.5 414.0C164.7 411.6 166.2 412.8 168.7 411.4C171.1 410.0 174.3 407.8 177.1 405.5C179.9 403.3 182.7 399.0 185.5 397.9C188.3 396.8 191.4 399.2 193.9 398.8C196.5 398.3 198.1 397.2 200.7 395.4C203.2 393.6 206.3 388.1 209.1 387.8C211.9 387.5 214.7 391.5 217.5 393.7C220.3 396.0 222.9 399.3 226.0 401.3C229.0 403.3 233.0 403.7 236.1 405.5C239.2 407.3 242.0 409.7 244.5 412.3C247.0 414.8 248.7 418.1 251.2 420.7C253.8 423.2 256.6 427.1 259.7 427.4C262.8 427.7 266.4 424.0 269.8 422.4C273.2 420.7 276.5 418.4 279.9 417.3C283.3 416.2 286.9 415.1 290.0 415.6C293.1 416.2 295.4 418.1 298.4 420.7C301.5 423.3 305.4 430.5 308.4 431.1C311.5 431.7 314.0 428.3 316.9 424.4C319.7 420.5 322.5 413.7 325.3 407.5C328.1 401.4 330.9 394.6 333.7 387.3C336.5 380.0 338.8 370.5 342.1 363.7C345.5 357.0 350.3 348.8 353.9 346.9C357.6 344.9 361.0 349.1 364.0 351.9C367.1 354.7 369.4 359.2 372.5 363.7C375.6 368.2 379.2 375.4 382.6 378.9C386.0 382.4 389.0 384.8 392.7 384.8C396.4 384.8 400.8 382.7 404.5 378.9C408.2 375.1 411.5 366.0 414.6 362.0C417.7 358.1 420.0 355.3 423.0 355.3C426.1 355.3 429.8 358.4 433.2 362.0C436.5 365.7 439.9 371.9 443.3 377.2C446.6 382.5 450.0 389.8 453.4 394.0C456.8 398.3 460.1 400.8 463.5 402.5C466.9 404.2 470.5 404.7 473.6 404.2C476.7 403.6 478.6 402.2 481.9 399.1C485.3 396.0 489.2 390.1 493.7 385.6C498.2 381.1 504.9 373.5 508.9 372.1C512.8 370.7 514.5 373.5 517.3 377.2C520.1 380.8 522.6 388.4 525.7 394.0C528.8 399.7 532.5 408.7 535.8 410.9C539.2 413.2 542.9 411.5 546.0 407.5C549.0 403.6 551.3 393.6 554.4 387.3C557.5 381.0 561.1 371.6 564.5 369.6C567.9 367.6 571.2 372.6 574.6 375.5C578.0 378.5 581.4 386.2 584.7 387.3C588.1 388.4 591.5 385.9 594.8 382.3C598.2 378.6 601.9 366.8 605.0 365.4C608.0 364.0 610.6 369.6 613.4 373.8C616.2 378.0 619.0 385.9 621.8 390.7C624.6 395.5 627.2 400.2 630.2 402.5C633.3 404.7 636.3 403.5 640.0 404.2C643.7 404.8 648.4 406.9 652.5 406.6C656.5 406.3 660.6 401.9 664.3 402.4C667.9 402.8 671.6 406.9 674.4 409.1C677.2 411.4 678.6 416.4 681.1 415.8C683.7 415.3 686.7 409.7 689.6 405.7C692.4 401.8 695.5 394.8 698.0 392.3C700.5 389.7 702.2 389.2 704.7 390.6C707.3 392.0 710.3 396.2 713.2 400.7C716.0 405.2 718.8 413.0 721.6 417.5C724.4 422.0 726.9 426.5 730.0 427.6C733.1 428.8 737.0 425.7 740.1 424.3C743.2 422.9 745.5 418.7 748.5 419.2C751.6 419.7 755.2 424.6 758.5 427.3C761.9 430.1 765.0 435.2 768.7 435.7C772.3 436.3 776.2 433.8 780.5 430.7C784.7 427.6 790.3 418.0 793.9 417.2C797.6 416.4 799.6 421.4 802.4 425.6C805.2 429.8 808.0 439.4 810.8 442.5C813.6 445.6 815.8 445.3 819.2 444.2C822.6 443.0 827.1 438.3 831.0 435.7C834.9 433.2 838.9 430.4 842.8 429.0C846.7 427.6 850.7 428.4 854.6 427.3C858.5 426.2 862.2 424.2 866.4 422.3C870.6 420.3 876.0 416.1 879.9 415.5C883.8 414.9 887.2 415.9 890.0 418.9C892.8 421.9 893.8 428.1 896.5 433.4C899.2 438.6 902.6 445.8 906.3 450.2C910.1 454.7 915.0 459.1 919.0 460.1C923.0 461.0 926.9 458.9 930.2 455.8C933.5 452.8 935.8 446.9 938.7 441.8C941.5 436.6 944.7 429.0 947.1 424.9C949.4 420.8 951.8 418.5 952.7 417.2" stroke="#000" stroke-width="10" fill="none" stroke-linejoin="round" stroke-linecap="round"/>
<line x1="23.1" y1="383.7" x2="956" y2="383.7" stroke="#777" stroke-width="2.6" stroke-dasharray="8 7.6"/></g>
<path d="M23.3 628.2 V54.3 H956.4" stroke="#8c8c8c" stroke-width="2.2" fill="none"/>
<path d="M23.3 628.2 H956.4" stroke="#8c8c8c" stroke-width="2.2" fill="none"/>
<path d="M956.4 54.3 V628.2" stroke="#b8b8b8" stroke-width="2.6" fill="none"/>
<line x1="952.3" y1="628" x2="952.3" y2="619" stroke="#8c8c8c" stroke-width="1.8"/>
<line x1="952.3" y1="54.5" x2="952.3" y2="63.5" stroke="#8c8c8c" stroke-width="1.8"/>
<line x1="797.5" y1="628" x2="797.5" y2="619" stroke="#8c8c8c" stroke-width="1.8"/>
<line x1="797.5" y1="54.5" x2="797.5" y2="63.5" stroke="#8c8c8c" stroke-width="1.8"/>
<line x1="642.7" y1="628" x2="642.7" y2="619" stroke="#8c8c8c" stroke-width="1.8"/>
<line x1="642.7" y1="54.5" x2="642.7" y2="63.5" stroke="#8c8c8c" stroke-width="1.8"/>
<line x1="487.9" y1="628" x2="487.9" y2="619" stroke="#8c8c8c" stroke-width="1.8"/>
<line x1="487.9" y1="54.5" x2="487.9" y2="63.5" stroke="#8c8c8c" stroke-width="1.8"/>
<line x1="333.1" y1="628" x2="333.1" y2="619" stroke="#8c8c8c" stroke-width="1.8"/>
<line x1="333.1" y1="54.5" x2="333.1" y2="63.5" stroke="#8c8c8c" stroke-width="1.8"/>
<line x1="178.3" y1="628" x2="178.3" y2="619" stroke="#8c8c8c" stroke-width="1.8"/>
<line x1="178.3" y1="54.5" x2="178.3" y2="63.5" stroke="#8c8c8c" stroke-width="1.8"/>
<line x1="23.5" y1="546.8" x2="32.5" y2="546.8" stroke="#8c8c8c" stroke-width="1.8"/>
<line x1="947" y1="546.8" x2="956" y2="546.8" stroke="#8c8c8c" stroke-width="1.8"/>
<line x1="23.5" y1="465.2" x2="32.5" y2="465.2" stroke="#8c8c8c" stroke-width="1.8"/>
<line x1="947" y1="465.2" x2="956" y2="465.2" stroke="#8c8c8c" stroke-width="1.8"/>
<line x1="23.5" y1="383.7" x2="32.5" y2="383.7" stroke="#8c8c8c" stroke-width="1.8"/>
<line x1="947" y1="383.7" x2="956" y2="383.7" stroke="#8c8c8c" stroke-width="1.8"/>
<line x1="23.5" y1="302.1" x2="32.5" y2="302.1" stroke="#8c8c8c" stroke-width="1.8"/>
<line x1="947" y1="302.1" x2="956" y2="302.1" stroke="#8c8c8c" stroke-width="1.8"/>
<line x1="23.5" y1="220.6" x2="32.5" y2="220.6" stroke="#8c8c8c" stroke-width="1.8"/>
<line x1="947" y1="220.6" x2="956" y2="220.6" stroke="#8c8c8c" stroke-width="1.8"/>
<line x1="23.5" y1="139.1" x2="32.5" y2="139.1" stroke="#8c8c8c" stroke-width="1.8"/>
<line x1="947" y1="139.1" x2="956" y2="139.1" stroke="#8c8c8c" stroke-width="1.8"/>
<rect x="302" y="564.5" width="333.5" height="44" fill="#fff" stroke="#8a8a8a" stroke-width="1.6"/>
<g><text x="487.8" y="38.9" font-size="50" text-anchor="middle" font-weight="normal" textLength="766" lengthAdjust="spacingAndGlyphs" stroke="#fff" stroke-width="0.7">Holocene Temperature Variations</text>
<text x="48.5" y="110.8" font-size="34.5" text-anchor="start" font-weight="normal" textLength="178" lengthAdjust="spacingAndGlyphs">End of Last</text>
<text x="49.5" y="151.8" font-size="34.5" text-anchor="start" font-weight="normal" >Glacial</text>
<text x="49.5" y="191.8" font-size="34.5" text-anchor="start" font-weight="normal" >Period</text>
<text x="951.5" y="666.9" font-size="35.5" text-anchor="middle" font-weight="normal" >0</text>
<text x="796.7" y="666.9" font-size="35.5" text-anchor="middle" font-weight="normal" >2</text>
<text x="641.9" y="666.9" font-size="35.5" text-anchor="middle" font-weight="normal" >4</text>
<text x="487.1" y="666.9" font-size="35.5" text-anchor="middle" font-weight="normal" >6</text>
<text x="332.3" y="666.9" font-size="35.5" text-anchor="middle" font-weight="normal" >8</text>
<text x="177.5" y="666.9" font-size="35.5" text-anchor="middle" font-weight="normal" >10</text>
<text x="22.7" y="666.9" font-size="35.5" text-anchor="middle" font-weight="normal" >12</text>
<text x="489.7" y="705.4" font-size="39" text-anchor="middle" font-weight="normal" textLength="429" lengthAdjust="spacingAndGlyphs">Thousands of Years BP</text>
<text x="974" y="151.6" font-size="35" text-anchor="start" font-weight="normal" >1.5</text>
<text x="974" y="233.1" font-size="35" text-anchor="start" font-weight="normal" >1</text>
<text x="974" y="314.6" font-size="35" text-anchor="start" font-weight="normal" >0.5</text>
<text x="974" y="396.2" font-size="35" text-anchor="start" font-weight="normal" >0</text>
<text x="960" y="477.8" font-size="35" text-anchor="start" font-weight="normal" >-0.5</text>
<text x="960" y="559.3" font-size="35" text-anchor="start" font-weight="normal" >-1</text>
<text transform="translate(1057,343) rotate(-90)" font-size="40.5" text-anchor="middle" textLength="489" lengthAdjust="spacingAndGlyphs">Temperature Anomaly (°C)</text>
<text x="467.5" y="599.7" font-size="35" text-anchor="middle" font-weight="normal" textLength="295" lengthAdjust="spacingAndGlyphs">Climatic Optimum?</text>
<text x="846.5" y="294" font-size="27" text-anchor="start" font-weight="bold" textLength="69" lengthAdjust="spacingAndGlyphs">2016</text></g>
<rect x="655.2" y="69" width="246.3" height="168" fill="#fff" stroke="#7a7a7a" stroke-width="1.6"/>
<line x1="655.2" y1="101" x2="659" y2="101" stroke="#7a7a7a" stroke-width="1.4"/>
<line x1="897.5" y1="101" x2="901.5" y2="101" stroke="#7a7a7a" stroke-width="1.4"/>
<line x1="655.2" y1="146" x2="659" y2="146" stroke="#7a7a7a" stroke-width="1.4"/>
<line x1="897.5" y1="146" x2="901.5" y2="146" stroke="#7a7a7a" stroke-width="1.4"/>
<line x1="655.2" y1="191" x2="659" y2="191" stroke="#7a7a7a" stroke-width="1.4"/>
<line x1="897.5" y1="191" x2="901.5" y2="191" stroke="#7a7a7a" stroke-width="1.4"/>
<line x1="714.6" y1="237" x2="714.6" y2="233" stroke="#7a7a7a" stroke-width="1.4"/>
<line x1="714.6" y1="69" x2="714.6" y2="73" stroke="#7a7a7a" stroke-width="1.4"/>
<line x1="775.7" y1="237" x2="775.7" y2="233" stroke="#7a7a7a" stroke-width="1.4"/>
<line x1="775.7" y1="69" x2="775.7" y2="73" stroke="#7a7a7a" stroke-width="1.4"/>
<line x1="833.9" y1="237" x2="833.9" y2="233" stroke="#7a7a7a" stroke-width="1.4"/>
<line x1="833.9" y1="69" x2="833.9" y2="73" stroke="#7a7a7a" stroke-width="1.4"/><path d="" stroke="#e8e400" stroke-width="1.6" fill="none" opacity="0"/>
<path d="M685.0 161.4 L686.8 164.4 L688.6 162.6 L690.4 164.8 L692.2 165.0 L694.0 159.3 L695.8 158.7 L697.6 166.9 L699.4 161.0 L701.2 160.7 L703.0 168.2 L704.8 162.9 L706.6 166.5 L708.4 162.8 L710.2 164.4 L712.0 159.4 L713.8 164.2 L715.6 166.5 L717.4 162.9 L719.2 165.0 L721.0 164.3 L722.8 158.1 L724.6 165.0 L726.4 163.3 L728.2 160.3 L730.0 157.5 L731.8 165.8 L733.6 161.8 L735.4 164.2 L737.2 165.7 L739.0 164.0 L740.8 166.0 L742.6 160.6 L744.4 164.6 L746.2 161.0 L748.0 165.8 L749.8 165.2 L751.6 157.3 L753.4 157.6 L755.2 158.4 L757.0 165.8 L758.8 160.4 L760.6 162.3 L762.4 159.3 L764.2 161.5 L766.0 160.5 L767.8 160.3 L769.6 162.8 L771.4 163.0 L773.2 166.4 L775.0 164.3 L776.8 167.0 L778.6 166.4 L780.4 167.9 L782.2 164.9 L784.0 160.0 L785.8 167.2 L787.6 168.4 L789.4 168.0 L791.2 164.8 L793.0 166.4 L794.8 161.6 L796.6 168.0 L798.4 165.6 L800.2 162.9 L802.0 160.8 L803.8 168.8 L805.6 170.3 L807.4 161.4 L809.2 168.7 L811.0 164.9 L812.8 162.5 L814.6 164.0 L816.4 168.9 L818.2 170.1 L820.0 161.9 L821.8 167.8 L823.6 162.2 L825.4 169.1 L827.2 165.3 L829.0 171.0 L830.8 172.1 L832.6 167.5 L834.4 172.6 L836.2 165.8 L838.0 163.6 L839.8 169.0 L841.6 163.2 L843.4 164.7 L845.2 166.7 L847.0 168.6 L848.8 163.9 L850.6 162.6 L852.4 170.7 L854.2 165.1 L856.0 171.4 L857.8 170.6 L859.6 165.3 L861.4 166.0 L863.2 166.5 L865.0 167.6 L866.8 166.9 L868.6 166.4 L870.4 166.9 L872.2 170.0 L874.0 165.5 L875.8 164.6 L877.6 167.4 L879.4 162.4 L881.2 162.4 L883.0 168.3 L884.8 162.8 L886.6 162.2 L888.4 155.9 L890.2 159.1 L892.0 159.8 L893.8 153.3 L895.6 158.4" stroke="#c6f53a" stroke-width="1.8" fill="none" stroke-linejoin="round"/>
<path d="M685.0 175.9 L686.8 174.0 L688.6 180.2 L690.4 173.5 L692.2 179.3 L694.0 177.4 L695.8 173.9 L697.6 179.5 L699.4 174.1 L701.2 179.1 L703.0 174.9 L704.8 175.4 L706.6 179.6 L708.4 184.6 L710.2 176.4 L712.0 177.8 L713.8 182.8 L715.6 186.9 L717.4 182.6 L719.2 180.7 L721.0 187.6 L722.8 176.3 L724.6 185.8 L726.4 178.8 L728.2 176.9 L730.0 176.4 L731.8 178.5 L733.6 184.4 L735.4 176.6 L737.2 181.3 L739.0 181.8 L740.8 178.4 L742.6 180.3 L744.4 174.3 L746.2 174.1 L748.0 175.7 L749.8 181.2 L751.6 178.0 L753.4 176.4 L755.2 179.5 L757.0 177.7 L758.8 175.7 L760.6 181.5 L762.4 180.3 L764.2 174.8 L766.0 178.7 L767.8 178.1 L769.6 182.3 L771.4 180.5 L773.2 175.1 L775.0 183.4 L776.8 173.0 L778.6 176.6 L780.4 180.6 L782.2 173.3 L784.0 177.3 L785.8 171.8 L787.6 179.3 L789.4 180.4 L791.2 178.1 L793.0 181.7 L794.8 174.9 L796.6 179.4 L798.4 178.2 L800.2 178.0 L802.0 176.9 L803.8 181.9 L805.6 183.6 L807.4 178.4 L809.2 181.0 L811.0 174.2 L812.8 182.3 L814.6 182.1 L816.4 186.6 L818.2 185.0 L820.0 178.9 L821.8 180.5 L823.6 184.3 L825.4 177.0 L827.2 182.7 L829.0 179.5 L830.8 179.3 L832.6 179.0 L834.4 188.0 L836.2 180.7 L838.0 182.5 L839.8 184.6 L841.6 190.6 L843.4 181.2 L845.2 185.7 L847.0 187.1 L848.8 191.2 L850.6 190.5 L852.4 191.2 L854.2 184.3 L856.0 186.1 L857.8 185.5 L859.6 191.9 L861.4 192.9 L863.2 183.4 L865.0 183.8 L866.8 184.6 L868.6 184.7 L870.4 187.5 L872.2 187.1 L874.0 181.6 L875.8 176.9 L877.6 180.3 L879.4 178.1 L881.2 178.9 L883.0 181.9 L884.8 177.2 L886.6 173.5 L888.4 173.1 L890.2 172.2 L892.0 163.2 L893.8 171.7 L895.6 168.7" stroke="#ffc21a" stroke-width="1.8" fill="none" stroke-linejoin="round"/>
<path d="M659.0 187.8 L660.6 190.3 L662.2 199.6 L663.8 187.5 L665.4 188.3 L667.0 190.2 L668.6 179.5 L670.2 187.8 L671.8 190.6 L673.4 194.7 L675.0 176.3 L676.6 181.5 L678.2 175.7 L679.8 194.2 L681.4 191.1 L683.0 174.4 L684.6 199.1 L686.2 198.8 L687.8 191.0 L689.4 190.2 L691.0 178.5 L692.6 175.0 L694.2 188.6 L695.8 176.7 L697.4 180.3 L699.0 181.9 L700.6 176.6 L702.2 188.1 L703.8 187.7 L705.4 198.4 L707.0 190.2 L708.6 193.6 L710.2 190.7 L711.8 196.0 L713.4 191.6 L715.0 187.9 L716.6 207.6 L718.2 208.6 L719.8 205.5 L721.4 203.1 L723.0 193.9 L724.6 192.6 L726.2 195.2 L727.8 190.5 L729.4 209.6 L731.0 199.6 L732.6 209.8 L734.2 196.5 L735.8 210.0 L737.4 205.7 L739.0 182.4 L740.6 186.4 L742.2 203.3 L743.8 190.5 L745.4 202.4 L747.0 185.9 L748.6 176.1 L750.2 189.2 L751.8 191.8 L753.4 177.2 L755.0 171.2 L756.6 176.2 L758.2 191.3 L759.8 184.7 L761.4 166.7 L763.0 168.7 L764.6 163.6 L766.2 161.3 L767.8 179.1 L769.4 161.7 L771.0 170.3 L772.6 166.1 L774.2 158.1 L775.8 170.8 L777.4 153.9 L779.0 166.2 L780.6 151.6 L782.2 158.7 L783.8 152.4 L785.4 153.0 L787.0 170.4 L788.6 165.2 L790.2 151.3 L791.8 166.9 L793.4 151.2 L795.0 157.8 L796.6 171.6 L798.2 167.9 L799.8 155.7 L801.4 180.6 L803.0 162.3 L804.6 165.3 L806.2 180.5 L807.8 170.8 L809.4 171.7 L811.0 167.8 L812.6 169.9 L814.2 184.2 L815.8 176.9 L817.4 187.8 L819.0 183.3 L820.6 187.0 L822.2 201.7 L823.8 190.8 L825.4 194.7 L827.0 203.8 L828.6 187.6 L830.2 188.3 L831.8 209.5 L833.4 208.6 L835.0 195.0 L836.6 194.7 L838.2 210.2 L839.8 216.7 L841.4 198.5 L843.0 219.4 L844.6 218.8 L846.2 212.8 L847.8 209.3 L849.4 202.2 L851.0 200.5 L852.6 223.8 L854.2 204.2 L855.8 215.6 L857.4 203.2 L859.0 217.2 L860.6 210.5 L862.2 201.9 L863.8 198.1 L865.4 211.5 L867.0 193.8 L868.6 196.5 L870.2 203.6 L871.8 209.7 L873.4 202.0 L875.0 191.9 L876.6 206.9 L878.2 186.9 L879.8 180.5 L881.4 185.1 L883.0 186.2 L884.6 172.7 L886.2 172.1 L887.8 173.6 L889.4 175.4 L891.0 160.4 L892.6 163.2 L894.2 173.8 L895.8 172.9" stroke="#e81c1c" stroke-width="1.8" fill="none" stroke-linejoin="round"/>
<path d="M655.6 164.9C657.0 166.1 661.2 169.7 664.0 172.0C666.8 174.3 669.7 177.5 672.5 179.0C675.3 180.5 677.6 181.6 680.9 181.1C684.2 180.6 687.9 177.7 692.1 176.2C696.3 174.7 701.5 173.2 706.2 172.0C710.9 170.8 715.5 169.7 720.2 169.1C724.9 168.5 729.5 168.4 734.2 168.4C738.9 168.4 743.6 169.4 748.3 169.1C753.0 168.8 757.8 167.0 762.3 166.3C766.8 165.6 770.5 165.4 775.0 164.9C779.5 164.4 784.3 162.8 789.0 163.5C793.7 164.2 798.4 166.5 803.1 169.1C807.8 171.7 812.4 176.2 817.1 179.0C821.8 181.8 826.5 184.4 831.2 186.0C835.9 187.6 840.5 188.8 845.2 188.8C849.9 188.8 854.5 187.9 859.2 186.0C863.9 184.1 868.6 180.7 873.3 177.6C878.0 174.5 883.8 170.0 887.3 167.7C890.8 165.3 893.1 164.2 894.3 163.5" stroke="#000" stroke-width="6.5" fill="none" stroke-linecap="round"/>
<path d="M894.3 163.5 L896 151 L898.5 145 L900 127 L901 105" stroke="#111" stroke-width="1.6" fill="none"/>
<g><text x="660.5" y="116.4" font-size="25.5" text-anchor="start" textLength="168" lengthAdjust="spacingAndGlyphs">Recent Proxies</text>
<text x="656.4" y="256.7" font-size="18" text-anchor="middle" >2</text>
<text x="714.6" y="256.7" font-size="18" text-anchor="middle" >1.5</text>
<text x="775.7" y="256.7" font-size="18" text-anchor="middle" >1</text>
<text x="833.9" y="256.7" font-size="18" text-anchor="middle" >0.5</text>
<text x="895" y="256.7" font-size="18" text-anchor="middle" >0</text>
<text x="911" y="106.7" font-size="18" text-anchor="start" >0.5</text>
<text x="911" y="152" font-size="18" text-anchor="start" >0</text>
<text x="903" y="198" font-size="18" text-anchor="start" >-0.5</text>
<text x="907" y="244" font-size="18" text-anchor="start" >-1</text></g>
<g><line x1="870" y1="73.5" x2="892" y2="73.5" stroke="#111" stroke-width="2"/><path d="M889 69.5 L901 73.5 L889 77.5 Z" fill="#111"/>
<path d="M924.3 284.6 H937.2 V240.8 H955.5" stroke="#111" stroke-width="2" fill="none"/><path d="M946.2 233.5 L955.8 240.8 L946.2 248.5" stroke="#111" stroke-width="2" fill="none"/></g>
</svg>
</body></html>
